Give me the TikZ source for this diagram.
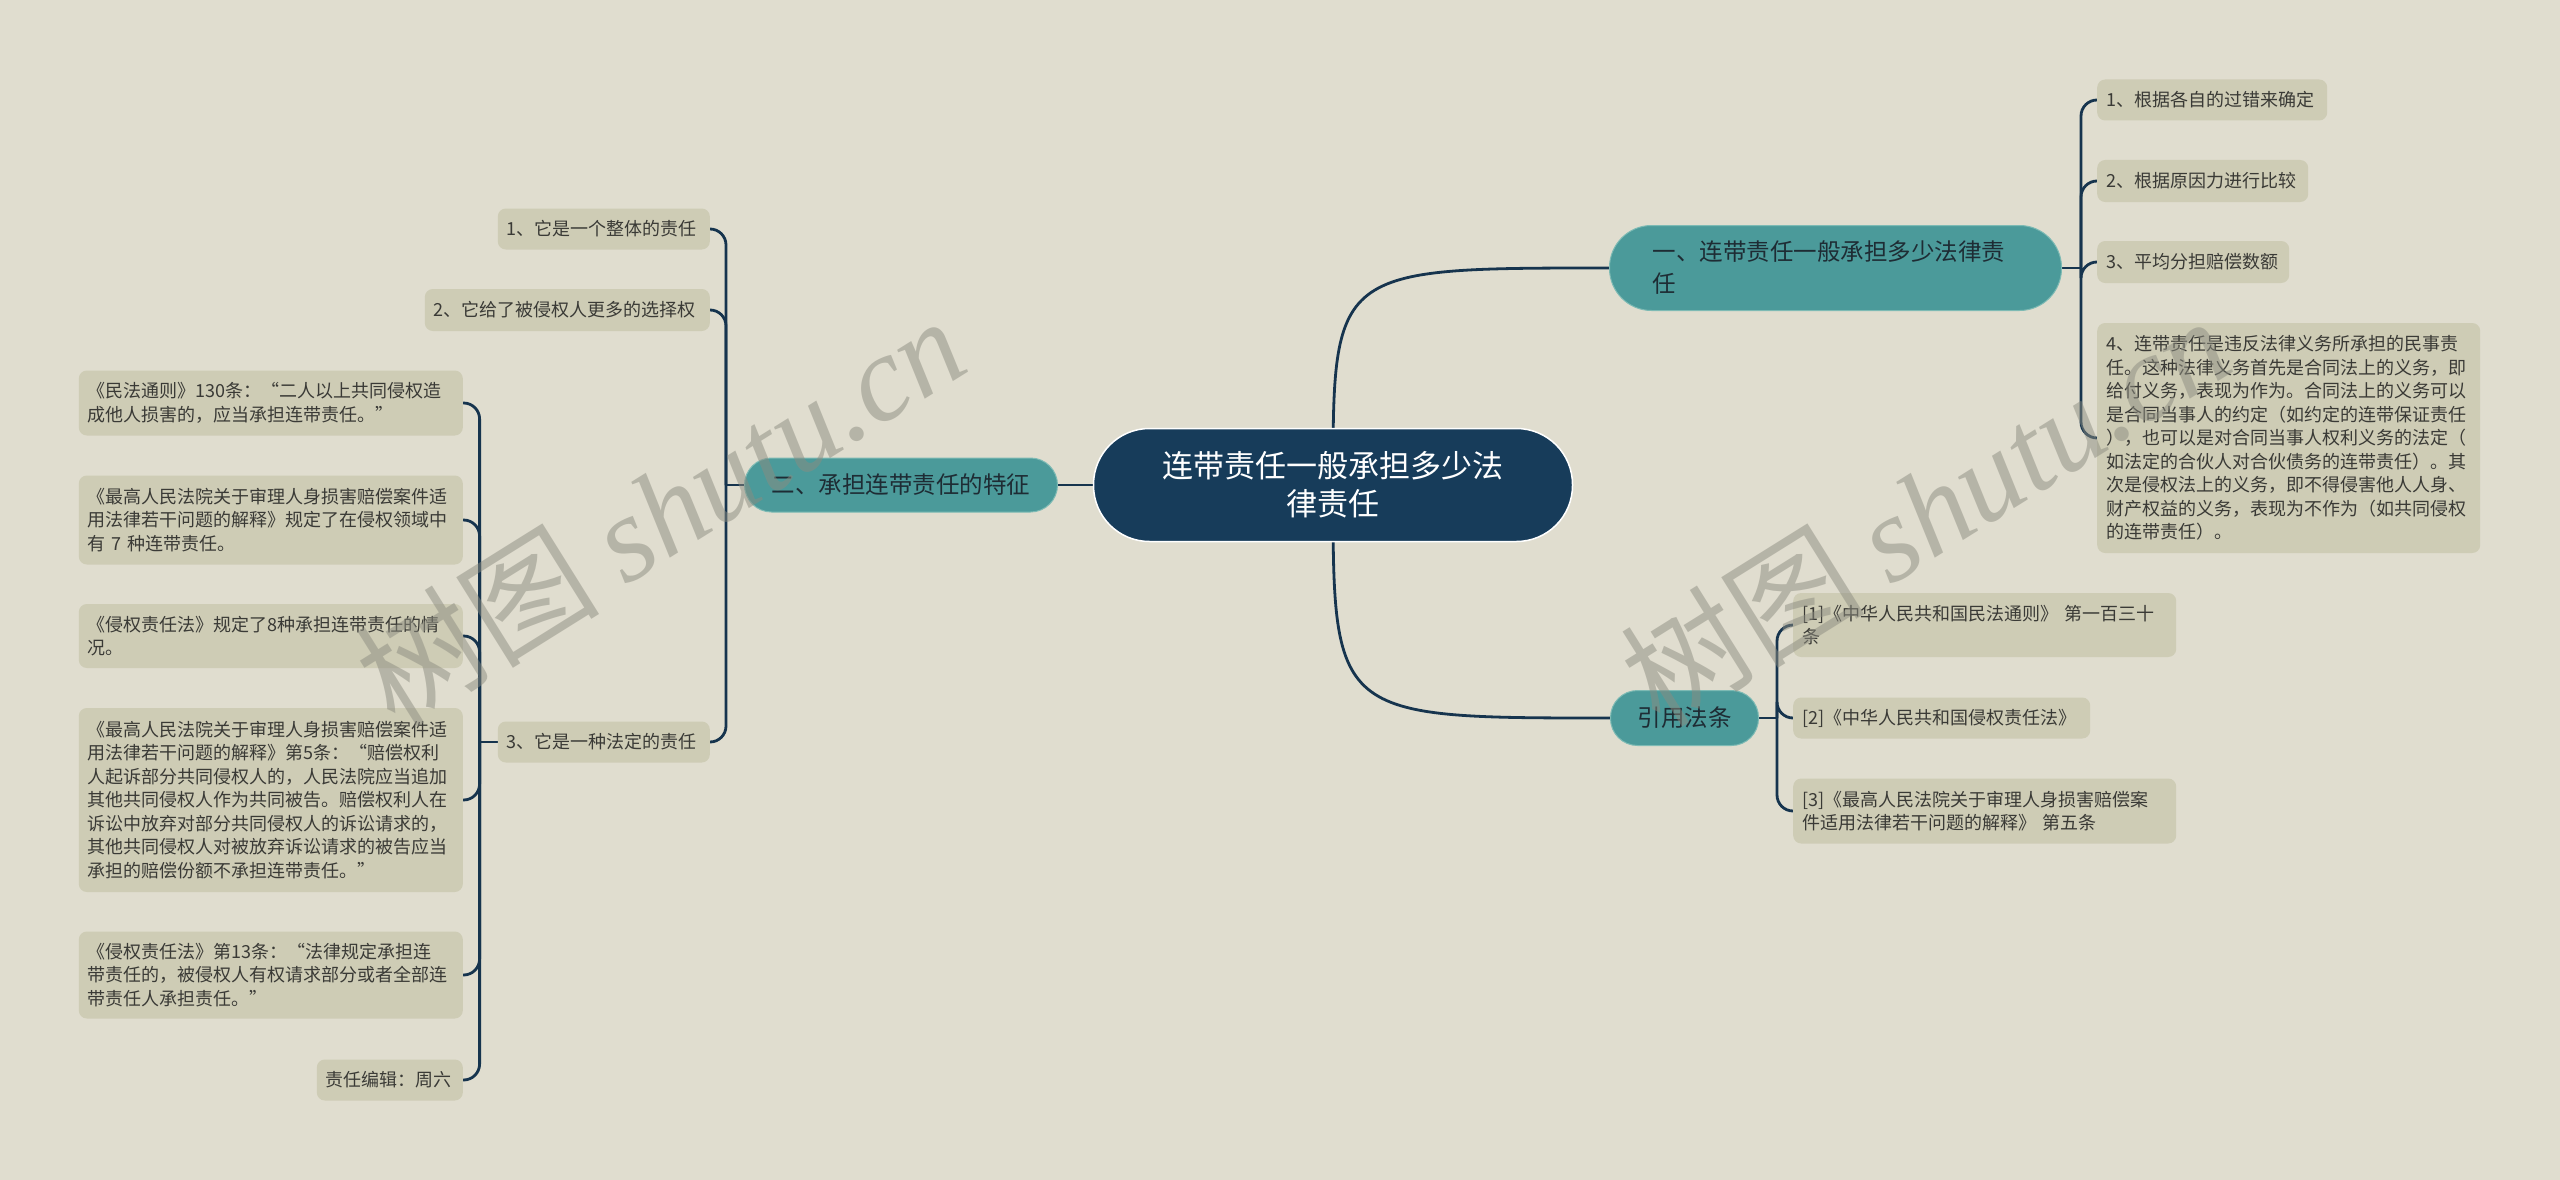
\documentclass[tikz,border=0pt]{standalone}
\usepackage{fontspec}
\setmainfont{Noto Sans CJK SC}
\newfontfamily\markfont{Liberation Serif}
\usepackage{tikz}
\definecolor{paperbg}{RGB}{224,221,207}
\definecolor{leaffill}{RGB}{206,204,181}
\definecolor{leaftext}{RGB}{58,58,54}
\definecolor{topicfill}{RGB}{75,154,154}
\definecolor{topicedge}{RGB}{125,186,180}
\definecolor{topictext}{RGB}{30,44,52}
\definecolor{hubfill}{RGB}{23,60,90}
\definecolor{linkcol}{RGB}{22,52,78}
\definecolor{markcol}{RGB}{140,140,128}
\pgfdeclarelayer{paperlayer}
\pgfdeclarelayer{edges}
\pgfsetlayers{paperlayer,edges,main}

\begin{document}
\begin{tikzpicture}[x=1pt, y=-1pt,
    hub/.style={fill=hubfill, draw=white, line width=1.5, rounded corners=56, minimum width=479, minimum height=113, align=center, text=white, font=\fontsize{31}{38}\selectfont},
    topic/.style={fill=topicfill, draw=topicedge, line width=1, text=topictext, font=\fontsize{23.5}{32}\selectfont},
    leaf/.style={fill=leaffill, rounded corners=8, inner xsep=9, inner ysep=4, align=left, text=leaftext, font=\fontsize{18}{23.5}\selectfont},
    link/.style={draw=linkcol, line width=2.8},
    fork/.style={link, rounded corners=16},
    wmark/.style={text=markcol, opacity=0.5, font=\fontsize{122}{130}\selectfont}]
    \begin{pgfonlayer}{paperlayer}
        \fill[paperbg] (0, 0) rectangle (2560, 1180);
    \end{pgfonlayer}
    \useasboundingbox (0, 0) rectangle (2560, 1180);

    \draw (1333, 485) node[hub](hub){连带责任一般承担多少法\\律责任};
    \draw (1609, 268) node[topic, anchor=west, rounded corners=42, minimum height=85, text width=366, inner xsep=43, align=left](one){一、连带责任一般承担多少法律责\\任};
    \draw (1058, 485) node[topic, anchor=east, rounded corners=27, minimum width=313, minimum height=54, align=center](two){二、承担连带责任的特征};
    \draw (1610, 718) node[topic, anchor=west, rounded corners=27, minimum width=148, minimum height=55](cite){引用法条};

    \draw (2097, 100) node[leaf, anchor=west, text width=212, minimum height=41](r1){1、根据各自的过错来确定};
    \draw (2097, 181) node[leaf, anchor=west, text width=193, minimum height=42](r2){2、根据原因力进行比较};
    \draw (2097, 262) node[leaf, anchor=west, text width=174, minimum height=42](r3){3、平均分担赔偿数额};
    \draw (2097, 438) node[leaf, anchor=west, text width=365, minimum height=230](r4){4、连带责任是违反法律义务所承担的民事责\\任。这种法律义务首先是合同法上的义务，即\\给付义务，表现为作为。合同法上的义务可以\\是合同当事人的约定（如约定的连带保证责任\\），也可以是对合同当事人权利义务的法定（\\如法定的合伙人对合伙债务的连带责任）。其\\次是侵权法上的义务，即不得侵害他人人身、\\财产权益的义务，表现为不作为（如共同侵权\\的连带责任）。};

    \draw (1793, 625) node[leaf, anchor=west, text width=365, minimum height=64](c1){[1]《中华人民共和国民法通则》 第一百三十\\条};
    \draw (1793, 718) node[leaf, anchor=west, text width=279, minimum height=41](c2){[2]《中华人民共和国侵权责任法》};
    \draw (1793, 811) node[leaf, anchor=west, text width=365, minimum height=65](c3){[3]《最高人民法院关于审理人身损害赔偿案\\件适用法律若干问题的解释》 第五条};

    \draw (710, 229) node[leaf, anchor=east, text width=194, minimum height=41](l1){1、它是一个整体的责任};
    \draw (710, 310) node[leaf, anchor=east, text width=267, minimum height=42](l2){2、它给了被侵权人更多的选择权};
    \draw (710, 742) node[leaf, anchor=east, text width=194, minimum height=41](l3){3、它是一种法定的责任};

    \draw (463, 403) node[leaf, anchor=east, text width=366, minimum height=65](d1){《民法通则》130条：“二人以上共同侵权造\\成他人损害的，应当承担连带责任。”};
    \draw (463, 520) node[leaf, anchor=east, text width=366, minimum height=89](d2){《最高人民法院关于审理人身损害赔偿案件适\\用法律若干问题的解释》规定了在侵权领域中\\有 7 种连带责任。};
    \draw (463, 636) node[leaf, anchor=east, text width=366, minimum height=64](d3){《侵权责任法》规定了8种承担连带责任的情\\况。};
    \draw (463, 800) node[leaf, anchor=east, text width=366, minimum height=184](d4){《最高人民法院关于审理人身损害赔偿案件适\\用法律若干问题的解释》第5条：“赔偿权利\\人起诉部分共同侵权人的，人民法院应当追加\\其他共同侵权人作为共同被告。赔偿权利人在\\诉讼中放弃对部分共同侵权人的诉讼请求的，\\其他共同侵权人对被放弃诉讼请求的被告应当\\承担的赔偿份额不承担连带责任。”};
    \draw (463, 975) node[leaf, anchor=east, text width=366, minimum height=87](d5){《侵权责任法》第13条：“法律规定承担连\\带责任的，被侵权人有权请求部分或者全部连\\带责任人承担责任。”};
    \draw (463, 1080) node[leaf, anchor=east, text width=128, minimum height=41](d6){责任编辑：周六};

    \begin{pgfonlayer}{edges}
        \coordinate (onebus) at ([xshift=19]one.east);
        \coordinate (citebus) at ([xshift=18]cite.east);
        \coordinate (twobus) at ([xshift=-18]two.west);
        \coordinate (l3bus) at ([xshift=-18]l3.west);
        \draw[link] (hub.center) -- (two.east);
        \draw[link] (hub.center) .. controls (hub.center |- one.west) .. (one.west);
        \draw[link] (hub.center) .. controls (hub.center |- cite.west) .. (cite.west);
        \draw[link] (one.east) -- (onebus);
        \draw[fork] (onebus) |- (r1.west);
        \draw[fork] (onebus) |- (r2.west);
        \draw[fork] (onebus) |- (r3.west);
        \draw[fork] (onebus) |- (r4.west);
        \draw[link] (cite.east) -- (citebus);
        \draw[fork] (citebus) |- (c1.west);
        \draw[fork] (citebus) |- (c2.west);
        \draw[fork] (citebus) |- (c3.west);
        \draw[link] (two.west) -- (twobus);
        \draw[fork] (twobus) |- (l1.east);
        \draw[fork] (twobus) |- (l2.east);
        \draw[fork] (twobus) |- (l3.east);
        \draw[link] (l3.west) -- (l3bus);
        \draw[fork] (l3bus) |- (d1.east);
        \draw[fork] (l3bus) |- (d2.east);
        \draw[fork] (l3bus) |- (d3.east);
        \draw[fork] (l3bus) |- (d4.east);
        \draw[fork] (l3bus) |- (d5.east);
        \draw[fork] (l3bus) |- (d6.east);
    \end{pgfonlayer}

    \node[wmark, rotate=32] (wm1) at (660, 510) {树图 {\markfont\itshape shutu.cn}};
    \node[wmark, rotate=32] (wm2) at (1925, 510) {树图 {\markfont\itshape shutu.cn}};
\end{tikzpicture}
\end{document}
